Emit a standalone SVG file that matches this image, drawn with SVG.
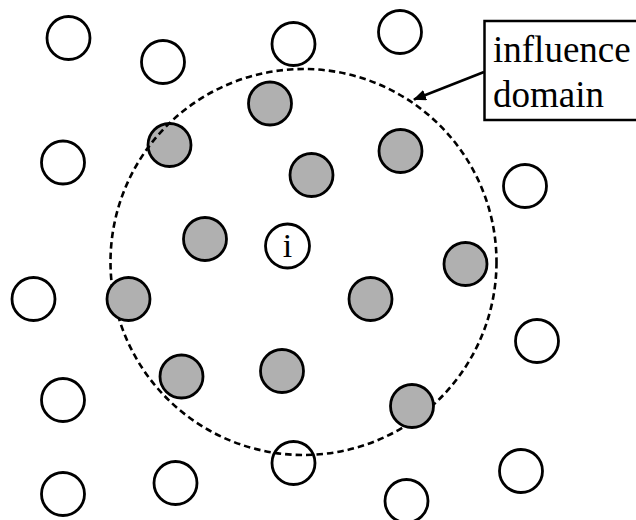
<svg xmlns="http://www.w3.org/2000/svg" width="636" height="520" viewBox="0 0 636 520">
<style>
.w{fill:#ffffff;stroke:#000;stroke-width:2.8}
.g{fill:#b0b0b0;stroke:#000;stroke-width:2.8}
.dom{fill:none;stroke:#000;stroke-width:2.6;stroke-dasharray:6.5 4}
.lbl{font-family:"Liberation Serif","Times New Roman",serif;font-size:37px;fill:#000}
</style>
<defs>
<marker id="ah" markerWidth="13" markerHeight="11" refX="12" refY="5.5" orient="auto" markerUnits="userSpaceOnUse">
<path d="M0,0 L13,5.5 L0,11 Z" fill="#000"/>
</marker>
</defs>
<rect width="636" height="520" fill="#fff"/>
<g id="white-nodes">
<circle class="w" cx="68.5" cy="38" r="21.5"/>
<circle class="w" cx="163" cy="62" r="21.5"/>
<circle class="w" cx="293.5" cy="44" r="21.5"/>
<circle class="w" cx="400" cy="32" r="21.5"/>
<circle class="w" cx="63" cy="162.5" r="21.5"/>
<circle class="w" cx="525" cy="186" r="21.5"/>
<circle class="w" cx="33.5" cy="299" r="21.5"/>
<circle class="w" cx="537" cy="341" r="21.5"/>
<circle class="w" cx="63" cy="400" r="21.5"/>
<circle class="w" cx="293.5" cy="463" r="21.5"/>
<circle class="w" cx="521" cy="471" r="21.5"/>
<circle class="w" cx="63" cy="494" r="21.5"/>
<circle class="w" cx="175.5" cy="483" r="21.5"/>
<circle class="w" cx="406.5" cy="501" r="21.5"/>
</g>
<g id="node-a"><circle class="g" cx="169.5" cy="145" r="21.5"/></g>
<g id="domain"><circle class="dom" cx="303.5" cy="262" r="193"/></g>
<g id="gray-nodes">
<circle class="g" cx="270" cy="103.5" r="21.5"/>
<circle class="g" cx="400.5" cy="151" r="21.5"/>
<circle class="g" cx="311.5" cy="175" r="21.5"/>
<circle class="g" cx="205" cy="239" r="21.5"/>
<circle class="g" cx="465.5" cy="264" r="21.5"/>
<circle class="g" cx="128.5" cy="299" r="21.5"/>
<circle class="g" cx="370.5" cy="299" r="21.5"/>
<circle class="g" cx="181.5" cy="376.5" r="21.5"/>
<circle class="g" cx="282" cy="371" r="21.5"/>
<circle class="g" cx="412" cy="406" r="21.5"/>
</g>
<g id="node-i">
<circle class="w" cx="287.5" cy="246" r="22"/>
<text x="287.5" y="257" text-anchor="middle" font-family="Liberation Serif, serif" font-size="34">i</text>
</g>
<g id="label-box">
<rect x="484.5" y="21" width="160" height="99" fill="#fff" stroke="#000" stroke-width="2.5"/>
<text class="lbl" x="493" y="62">influence</text>
<text class="lbl" x="493" y="107">domain</text>
</g>
<g id="connectors">
<line x1="484" y1="72" x2="414" y2="99.5" stroke="#000" stroke-width="2.6" marker-end="url(#ah)"/>
</g>
</svg>
